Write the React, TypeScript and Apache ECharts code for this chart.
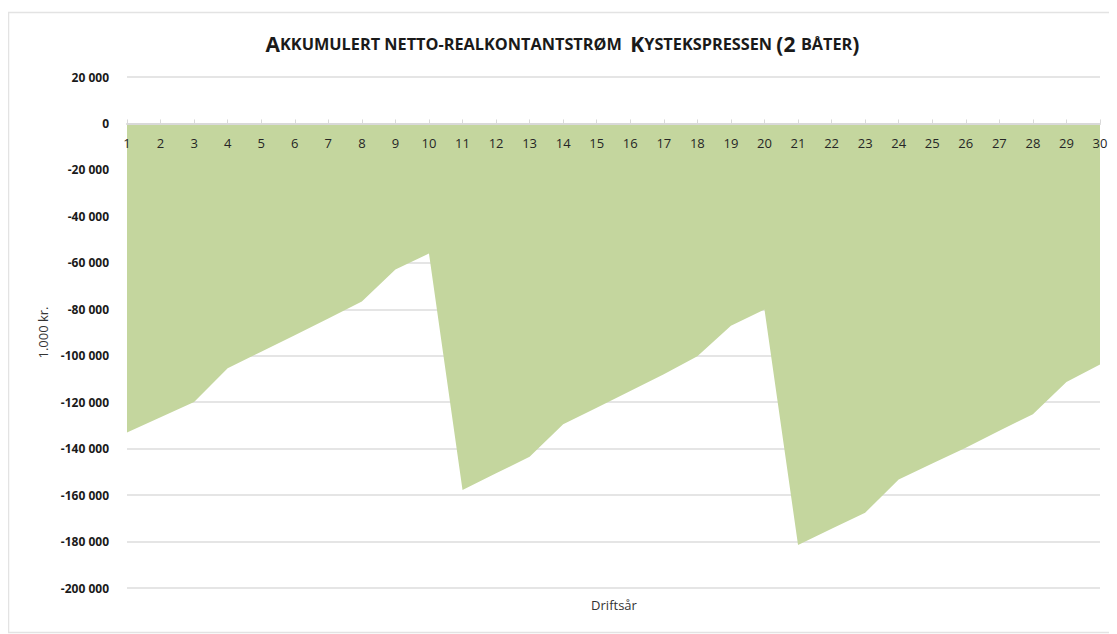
import React, { useEffect, useRef } from "react";
import * as echarts from "echarts";

const years: string[] = Array.from({ length: 30 }, (_, i) => String(i + 1));
const cashflow: number[] = [
  -133000, -126500, -119900, -105400, -98300, -91200, -84000, -76600, -62900, -56000,
  -157800, -150600, -143500, -129500, -122400, -115200, -108000, -100200, -87100, -80100,
  -181500, -174500, -167600, -153300, -146400, -139600, -132300, -125200, -111300, -103800,
];
const yTicks = { min: -200000, max: 20000, interval: 20000 };

const fmt = (v: number) => {
  const s = Math.abs(v).toString().replace(/\B(?=(\d{3})+(?!\d))/g, " ");
  return (v < 0 ? "-" : "") + s;
};

export default function App() {
  const ref = useRef<HTMLDivElement>(null);
  useEffect(() => {
    const chart = echarts.init(ref.current!, null, { renderer: "svg" });
    const font = "'Open Sans', 'Liberation Sans', sans-serif";
    const gridTop = 69;
    const gridBottom = 46;
    const gridH = 626 - gridTop - gridBottom;
    const zeroFromBottom = (0 - yTicks.min) / (yTicks.max - yTicks.min) * gridH;
    chart.setOption({
      animation: false,
      graphic: [
        {
          type: "rect",
          shape: { x: 0.5, y: 4.5, width: 1140, height: 620 },
          style: { fill: "none", stroke: "#e3e3e3", lineWidth: 1.5 },
          silent: true,
        },
        {
          type: "text",
          x: 606,
          y: 597,
          style: {
            text: "Driftsår",
            fontFamily: font,
            fontSize: 13,
            fill: "#333",
            align: "center",
            verticalAlign: "middle",
          },
          silent: true,
        },
      ],
      title: {
        text:
          "{b|A}{s|KKUMULERT NETTO-REALKONTANTSTRØM  }{b|K}{s|YSTEKSPRESSEN }{b|(2 }{s|BÅTER}{b|)}",
        left: "center",
        top: 20,
        textStyle: {
          rich: {
            b: { fontSize: 21, fontWeight: "bold", fontFamily: font, color: "#1a1a1a" },
            s: { fontSize: 16.3, fontWeight: "bold", fontFamily: font, color: "#1a1a1a" },
          },
        },
      },
      grid: { left: 119, right: 17, top: gridTop, bottom: gridBottom },
      xAxis: {
        type: "category",
        data: years,
        boundaryGap: false,
        position: "bottom",
        offset: -zeroFromBottom,
        z: 10,
        axisLine: { onZero: false, lineStyle: { color: "#d9d9d9", width: 2 } },
        axisTick: { show: true, inside: true, length: 4, lineStyle: { color: "#d9d9d9" } },
        axisLabel: { fontFamily: font, fontSize: 13, color: "#262626", margin: 13 },
        splitLine: { show: false },
      },
      yAxis: {
        type: "value",
        min: yTicks.min,
        max: yTicks.max,
        interval: yTicks.interval,
        name: "1.000 kr.",
        nameLocation: "middle",
        nameGap: 75,
        nameRotate: 90,
        nameTextStyle: { fontFamily: font, fontSize: 13, color: "#333" },
        axisLine: { show: false },
        axisTick: { show: false },
        axisLabel: {
          fontFamily: font,
          fontSize: 12,
          fontWeight: "bold",
          color: "#1a1a1a",
          margin: 18,
          formatter: (v: number) => fmt(v),
        },
        splitLine: { lineStyle: { color: "#dcdcdc", width: 1.5 } },
      },
      series: [
        {
          type: "line",
          data: cashflow,
          symbol: "none",
          lineStyle: { width: 0 },
          areaStyle: { color: "#c4d69e", opacity: 1 },
          z: 2,
        },
      ],
    });
    return () => chart.dispose();
  }, []);
  return <div ref={ref} style={{ width: 1109, height: 626 }} />;
}
